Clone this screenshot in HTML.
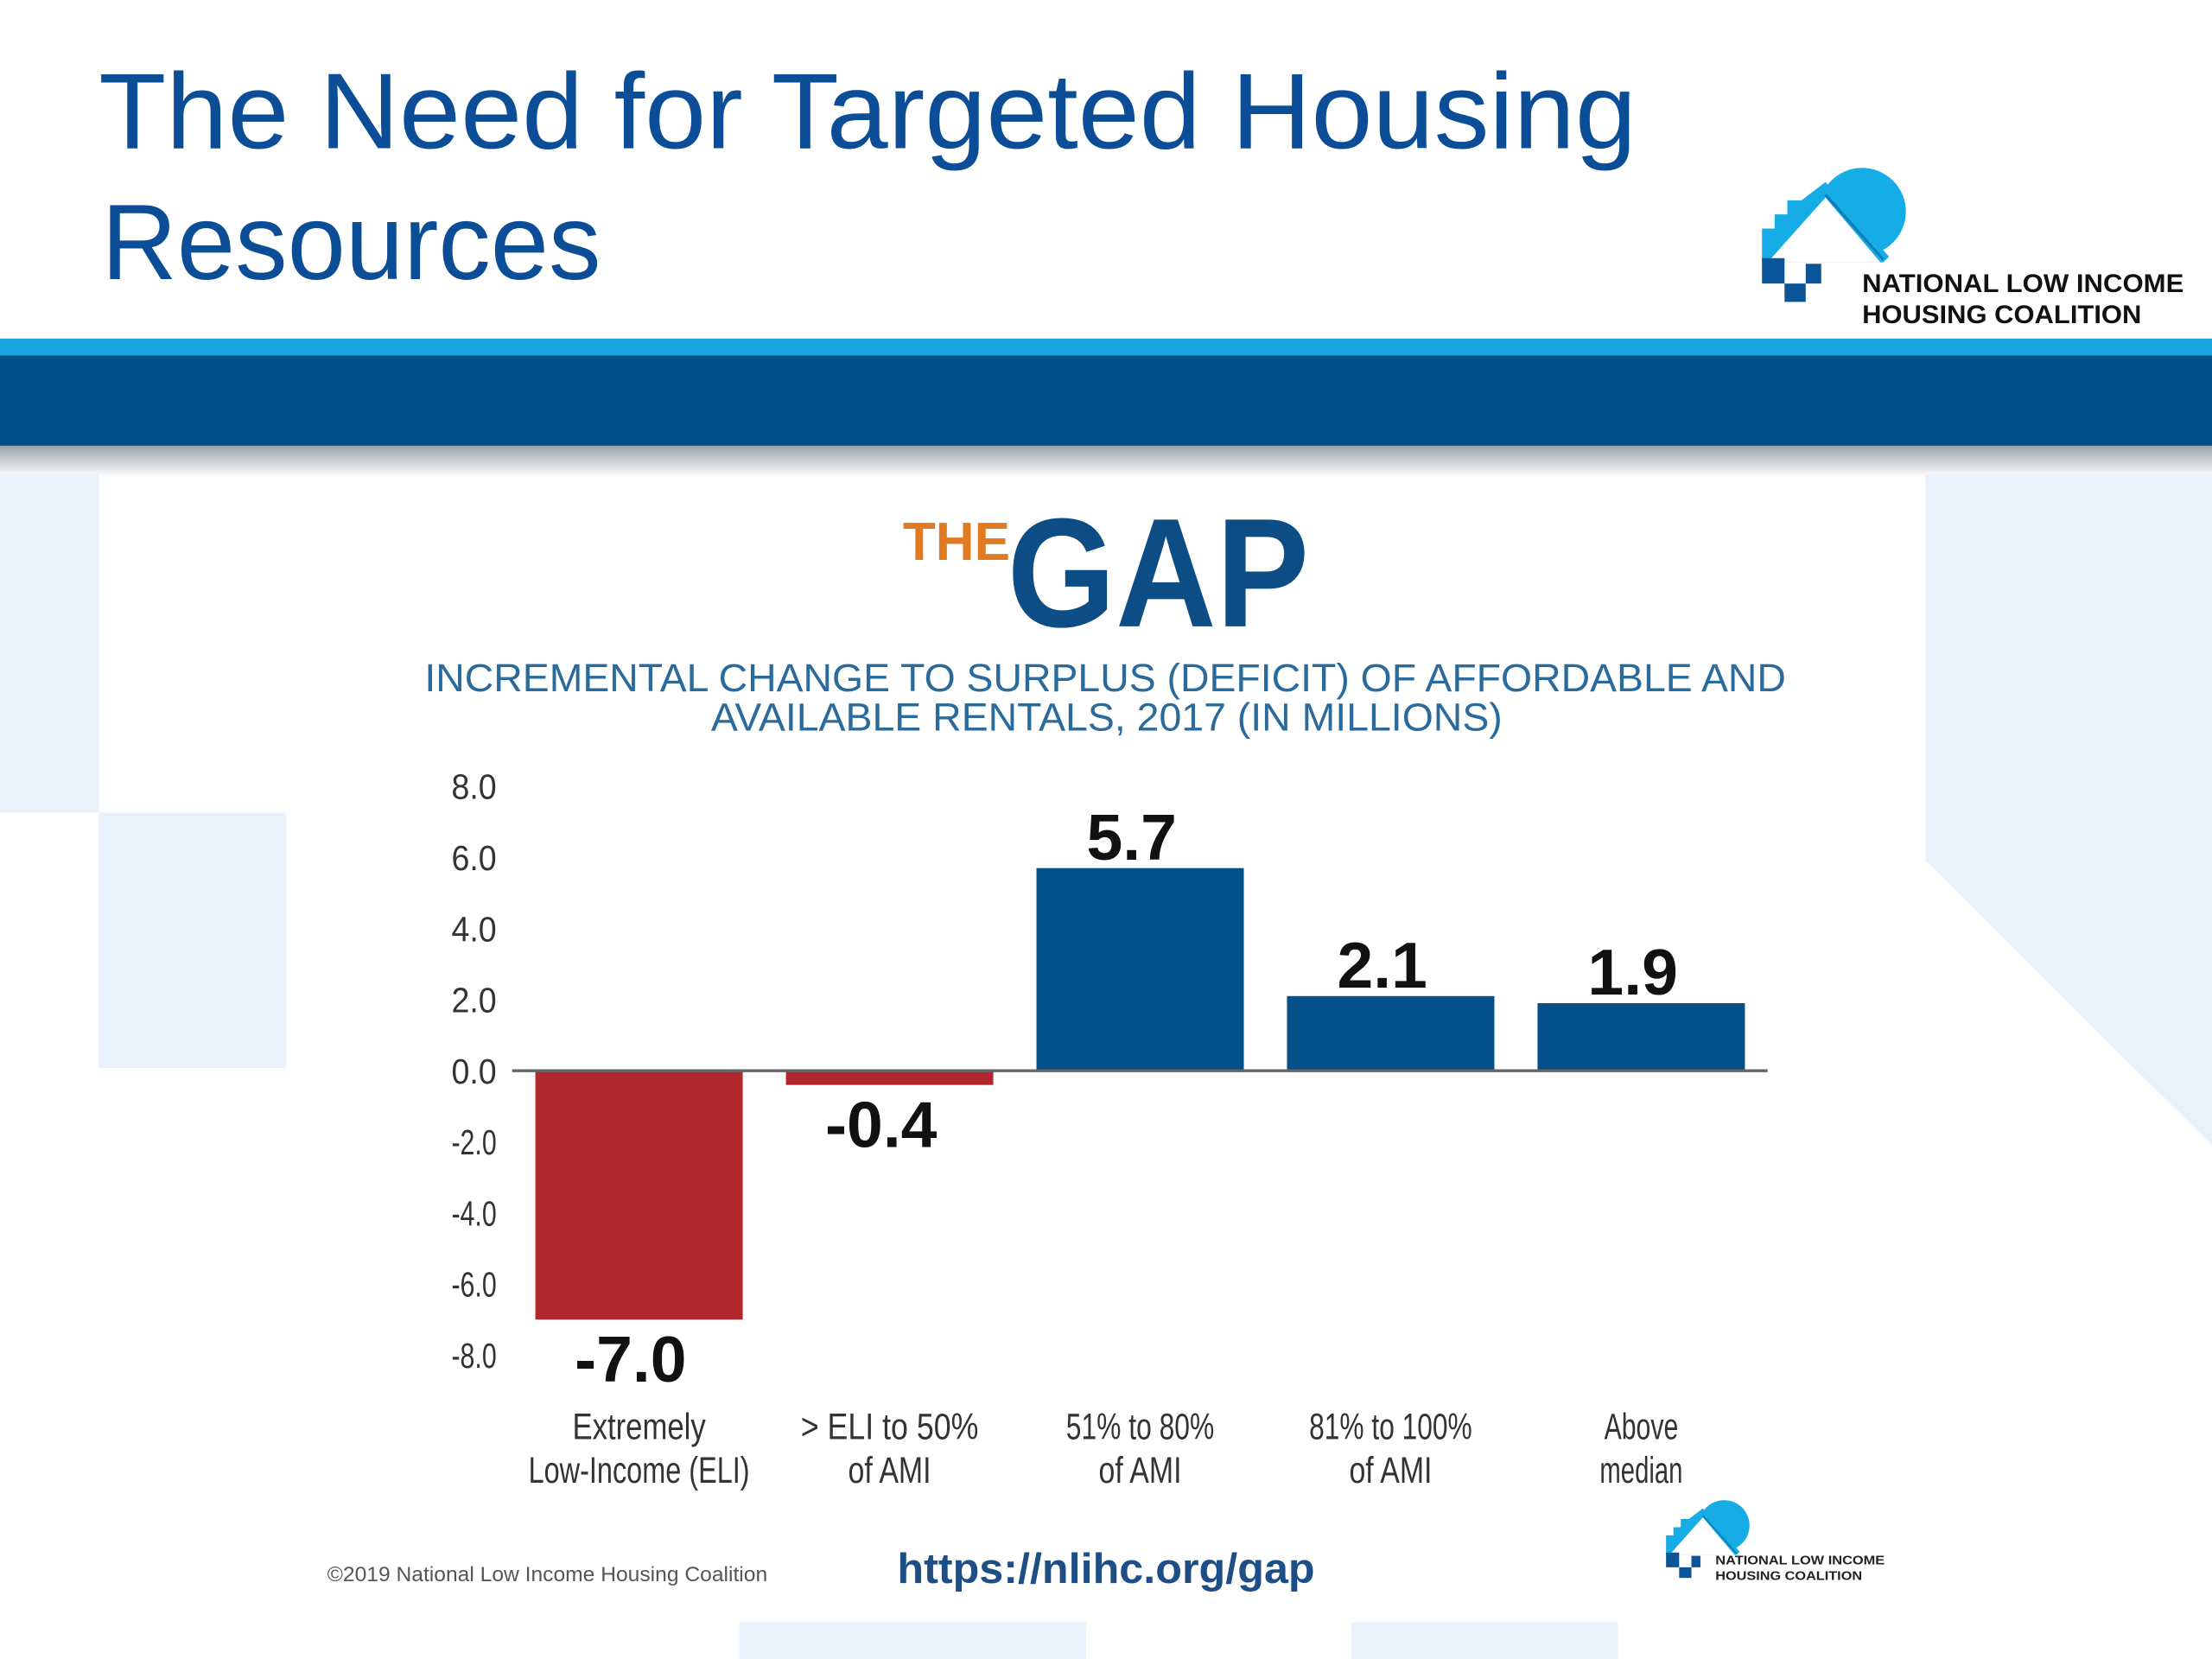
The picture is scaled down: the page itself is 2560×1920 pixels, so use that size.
<!DOCTYPE html>
<html><head><meta charset="utf-8"><style>
html,body{margin:0;padding:0;background:#fff;}
svg{display:block;}
</style></head><body>
<svg width="2560" height="1920" viewBox="0 0 1568 1176" xmlns="http://www.w3.org/2000/svg" font-family="'Liberation Sans', sans-serif">
<defs>
<linearGradient id="shadow" x1="0" y1="0" x2="0" y2="1"><stop offset="0" stop-color="#9aa3ab"/><stop offset="1" stop-color="#ffffff"/></linearGradient>
<g id="logo-mark">
  <circle cx="71" cy="30" r="31" fill="#16ace6"/>
  <polygon points="0,66 0,42 9,42 9,32 18,32 18,22 28,22 45,9 90,62 86,66" fill="#16ace6"/>
  <polygon points="4,66 45,20 84,66" fill="#ffffff"/>
  <line x1="45" y1="18" x2="86" y2="64" stroke="#0e7fb8" stroke-width="2"/>
  <rect x="0" y="63" width="16" height="18" fill="#0a5499"/>
  <rect x="16" y="81" width="15" height="13" fill="#0a5499"/>
  <rect x="31" y="67" width="11" height="14" fill="#0a5499"/>
</g>
</defs>
<rect x="0" y="0" width="1568" height="1176" fill="#ffffff"/>
<text x="70" y="105" font-size="76" fill="#0b4e97" textLength="1090" lengthAdjust="spacingAndGlyphs">The Need for Targeted Housing</text>
<text x="72" y="198" font-size="76" fill="#0b4e97" textLength="354" lengthAdjust="spacingAndGlyphs">Resources</text>
<g>
  <use href="#logo-mark" transform="translate(1249,120)"/>
  <text x="1320" y="207" font-size="18" font-weight="bold" fill="#111" textLength="228" lengthAdjust="spacingAndGlyphs">NATIONAL LOW INCOME</text>
  <text x="1320" y="229" font-size="18" font-weight="bold" fill="#111" textLength="198" lengthAdjust="spacingAndGlyphs">HOUSING COALITION</text>
</g>
<rect x="0" y="240" width="1568" height="13" fill="#1aa3dd"/>
<rect x="0" y="252" width="1568" height="64" fill="#035089"/>
<rect x="0" y="316" width="1568" height="22" fill="url(#shadow)"/>
<g fill="#e8f2fa">
  <rect x="0" y="336" width="70" height="240"/>
  <rect x="70" y="576" width="133" height="181"/>
  <polygon points="1365,336 1568,336 1568,812 1365,610"/>
  <rect x="524" y="1150" width="246" height="26"/>
  <rect x="958" y="1150" width="189" height="26"/>
</g>
<rect x="203" y="338" width="1162" height="812" fill="#ffffff"/>
<g>
  <text x="640" y="397" font-size="38" font-weight="bold" fill="#e07b22" textLength="76" lengthAdjust="spacingAndGlyphs">THE</text>
  <text x="714" y="444" font-size="110" font-weight="bold" fill="#0d4d85" textLength="214" lengthAdjust="spacingAndGlyphs">GAP</text>
</g>
<text x="301" y="490" font-size="28" fill="#2b6b9c" textLength="965" lengthAdjust="spacingAndGlyphs">INCREMENTAL  CHANGE TO SURPLUS (DEFICIT) OF AFFORDABLE AND</text>
<text x="504" y="518" font-size="28" fill="#2b6b9c" textLength="561" lengthAdjust="spacingAndGlyphs">AVAILABLE RENTALS, 2017 (IN MILLIONS)</text>
<g id="chart"></g>
<text x="232" y="1121" font-size="14.5" fill="#555" textLength="312" lengthAdjust="spacingAndGlyphs">©2019 National Low Income Housing Coalition</text>
<text x="636" y="1122" font-size="30" font-weight="bold" fill="#1d4f86" textLength="296" lengthAdjust="spacingAndGlyphs">https://nlihc.org/gap</text>
<g>
  <use href="#logo-mark" transform="translate(1181,1064) scale(0.58)"/>
  <text x="1216" y="1109" font-size="9" font-weight="bold" fill="#222" textLength="120" lengthAdjust="spacingAndGlyphs">NATIONAL LOW INCOME</text>
  <text x="1216" y="1120" font-size="9" font-weight="bold" fill="#222" textLength="104" lengthAdjust="spacingAndGlyphs">HOUSING COALITION</text>
</g>
</svg>
<script>
const categoriesLine1 = ["Extremely", "> ELI to 50%", "51% to 80%", "81% to 100%", "Above"];
const categoriesLine2 = ["Low-Income (ELI)", "of AMI", "of AMI", "of AMI", "median"];
const values = [-7.0, -0.4, 5.7, 2.1, 1.9];
const valueLabels = ["-7.0", "-0.4", "5.7", "2.1", "1.9"];
const tickValues = [8, 6, 4, 2, 0, -2, -4, -6, -8];
const tickLabels = ["8.0", "6.0", "4.0", "2.0", "0.0", "-2.0", "-4.0", "-6.0", "-8.0"];

const NS = "http://www.w3.org/2000/svg";
const chart = document.getElementById("chart");
const yZero = 759, unit = 25.2;
function yScale(v) { return yZero - v * unit; }
const firstCenter = 453, step = 177.6, barW = 147;
function xScale(i) { return firstCenter + i * step; }
function mk(tag, attrs, text) {
  const e = document.createElementNS(NS, tag);
  for (const k in attrs) e.setAttribute(k, attrs[k]);
  if (text !== undefined) e.textContent = text;
  chart.appendChild(e);
  return e;
}
tickValues.forEach((v, i) => {
  const t = mk("text", {x: 352, y: yScale(v) + 9, "font-size": 25, fill: "#333", "text-anchor": "end", textLength: 32, lengthAdjust: "spacingAndGlyphs"}, tickLabels[i]);
  
  
});
values.forEach((v, i) => {
  const cx = xScale(i);
  const y0 = yScale(Math.max(v, 0)), y1 = yScale(Math.min(v, 0));
  const r = mk("rect", {x: cx - barW / 2, y: y0, width: barW, height: Math.max(y1 - y0, 0.5), fill: v < 0 ? "#b0272d" : "#03508a"});
  
  
  const ly = v >= 0 ? yScale(v) - 6 : yScale(v) + 44;
  const lbl = mk("text", {x: cx - 6, y: ly, "font-size": 46, "font-weight": "bold", fill: "#111", "text-anchor": "middle"}, valueLabels[i]);
  
  
  const c1 = mk("text", {x: cx, y: 1020, "font-size": 26, fill: "#333", "text-anchor": "middle", textLength: categoriesLine1[i].length * 10.5, lengthAdjust: "spacingAndGlyphs"}, categoriesLine1[i]);
  
  
  const c2 = mk("text", {x: cx, y: 1051, "font-size": 26, fill: "#333", "text-anchor": "middle", textLength: categoriesLine2[i].length * 9.8, lengthAdjust: "spacingAndGlyphs"}, categoriesLine2[i]);
  
  
});
const axis = mk("line", {x1: 363, y1: yZero, x2: 1253, y2: yZero, stroke: "#666", "stroke-width": 2});


</script>
</body></html>
